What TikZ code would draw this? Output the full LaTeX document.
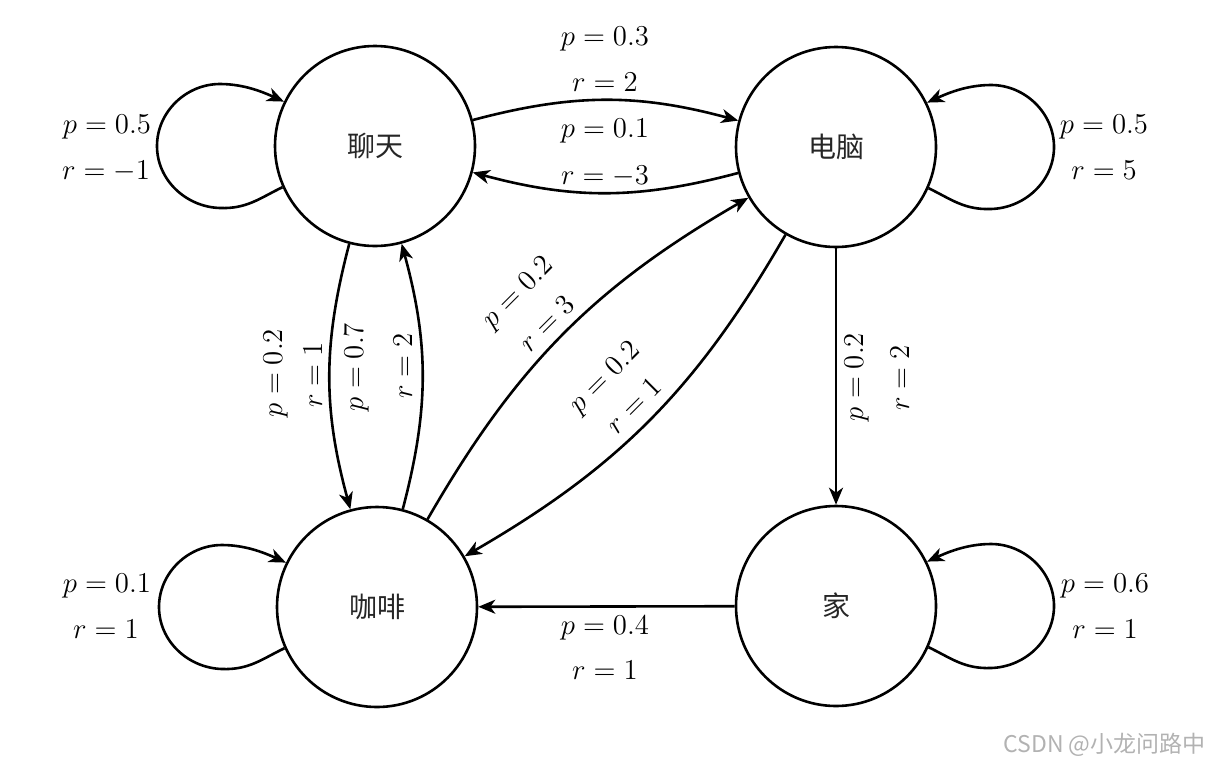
\documentclass[tikz,border=0pt]{standalone}
\usepackage{fontspec}
\newfontfamily\cjk{Noto Sans CJK SC}
\usetikzlibrary{arrows.meta,calc}
\begin{document}
\begin{tikzpicture}[x=0.5pt,y=-0.5pt,
  state/.style={circle,draw,line width=1.3pt,minimum size=100pt,inner sep=0pt,
    font=\cjk\fontsize{14}{16}\selectfont,text=black!85},
  edge/.style={line width=1.3pt,-{Stealth[length=8.5pt,width=7pt,inset=2.5pt]}},
  lbl/.style={anchor=base,inner sep=0pt,font=\fontsize{13.5}{16}\selectfont},
  rlbl/.style={lbl,rotate=90},
  dlbl/.style={lbl,rotate=45}]
\useasboundingbox (0,0) rectangle (1213,766);

% states
\node[state] (A) at (375,146) {聊天};
\node[state] (B) at (836,147) {电脑};
\node[state] (C) at (377,607) {咖啡};
\node[state] (D) at (836,606) {家};

% transitions between states
\draw[edge] (A) to[bend left=15] (B);
\draw[edge] (B) to[bend left=15] (A);
\draw[edge] (A) to[bend right=15] (C);
\draw[edge] (C) to[bend right=15] (A);
\draw[edge] (C) to[bend left=15] (B);
\draw[edge] (B) to[bend left=15] (C);
\draw[edge] (B) -- (D);
\draw[edge] (D) -- (C);

% self loops (left side)
\foreach \n in {A,C}{
\draw[edge] (\n.204) .. controls ($(\n)+(-115,52)$) and ($(\n)+(-128,63)$) .. ($(\n)+(-155,62)$)
  .. controls ($(\n)+(-189,61)$) and ($(\n)+(-218,34)$) .. ($(\n)+(-218,0)$)
  .. controls ($(\n)+(-218,-34)$) and ($(\n)+(-189,-62)$) .. ($(\n)+(-155,-62)$)
  .. controls ($(\n)+(-130,-62)$) and ($(\n)+(-110,-53)$) .. (\n.154);
}
% self loops (right side)
\foreach \n in {B,D}{
\draw[edge] (\n.336) .. controls ($(\n)+(115,52)$) and ($(\n)+(128,63)$) .. ($(\n)+(155,62)$)
  .. controls ($(\n)+(189,61)$) and ($(\n)+(218,34)$) .. ($(\n)+(218,0)$)
  .. controls ($(\n)+(218,-34)$) and ($(\n)+(189,-62)$) .. ($(\n)+(155,-62)$)
  .. controls ($(\n)+(130,-62)$) and ($(\n)+(110,-53)$) .. (\n.26);
}

% labels
\node[lbl] (la1) at (107,133) {$p = 0.5$};
\node[lbl] (la2) at (106,179) {$r = -1$};
\node[lbl] (lb1) at (1104,133) {$p = 0.5$};
\node[lbl] (lb2) at (1104,179) {$r = 5$};
\node[lbl] (lab1) at (605,45) {$p = 0.3$};
\node[lbl] (lab2) at (605,91) {$r = 2$};
\node[lbl] (lba1) at (605,137) {$p = 0.1$};
\node[lbl] (lba2) at (605,184) {$r = -3$};
\node[lbl] (lc1) at (107,592) {$p = 0.1$};
\node[lbl] (lc2) at (106,638) {$r = 1$};
\node[lbl] (ld1) at (1105,592) {$p = 0.6$};
\node[lbl] (ld2) at (1105,638) {$r = 1$};
\node[lbl] (ldc1) at (605,634) {$p = 0.4$};
\node[lbl] (ldc2) at (605,679) {$r = 1$};
\node[rlbl] (lac1) at (282,373) {$p = 0.2$};
\node[rlbl] (lac2) at (322,375) {$r = 1$};
\node[rlbl] (lca1) at (363,367) {$p = 0.7$};
\node[rlbl] (lca2) at (412,366) {$r = 2$};
\node[rlbl] (lbd1) at (863,377) {$p = 0.2$};
\node[rlbl] (lbd2) at (909,378) {$r = 2$};
\node[dlbl] (lcb1) at (523,298) {$p = 0.2$};
\node[dlbl] (lcb2) at (553,330) {$r = 3$};
\node[dlbl] (lbc1) at (610,383) {$p = 0.2$};
\node[dlbl] (lbc2) at (640,412) {$r = 1$};

% watermark
\node[anchor=east,inner sep=0pt,text=black!30,font=\cjk\fontsize{11.5}{13}\selectfont] (wm) at (1206,745) {CSDN @小龙问路中};
\end{tikzpicture}
\end{document}
